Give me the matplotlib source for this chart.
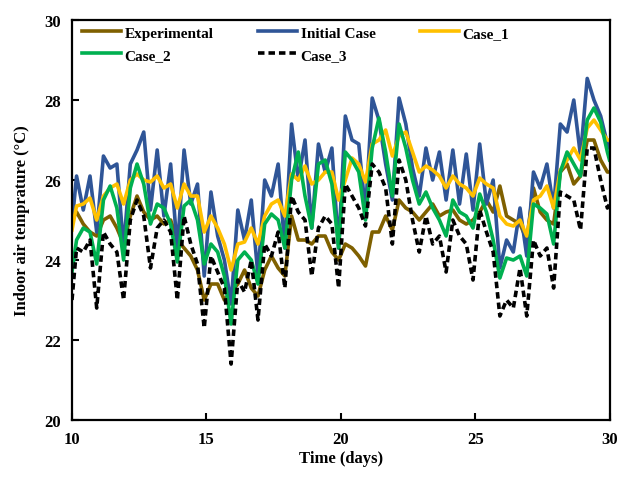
import matplotlib
matplotlib.use("Agg")
import matplotlib.pyplot as plt

# Sample times: start of day 10, then four points per day
# (two daily peaks and two troughs), then the end of day 30
start_day = 10.0
end_day = 30.0
day_offsets = [0.17, 0.42, 0.67, 0.92]
days = list(range(10, 30))
time_days = [start_day] + [d + o for d in days for o in day_offsets] + [end_day]

experimental = [
    25.0,
    25.2, 24.9, 24.7, 24.6,
    25.0, 25.1, 24.8, 24.4,
    25.1, 25.6, 25.2, 25.0,
    25.1, 24.9, 25.0, 24.5,
    24.3, 24.1, 23.75, 23.0,
    23.4, 23.4, 23.0, 23.2,
    23.4, 23.75, 23.3, 23.1,
    23.75, 24.1, 23.8, 23.6,
    25.1, 24.5, 24.5, 24.4,
    24.6, 24.6, 24.2, 24.0,
    24.4, 24.3, 24.1, 23.85,
    24.7, 24.7, 25.1, 24.75,
    25.5, 25.3, 25.2, 25.0,
    25.2, 25.4, 25.1, 25.2,
    25.25, 25.0, 24.9, 25.0,
    25.2, 25.5, 25.2, 25.85,
    25.1, 25.0, 24.9, 24.5,
    25.8, 25.2, 25.0, 24.9,
    26.2, 26.4, 25.9, 26.1,
    27.0, 27.0, 26.5, 26.2,
    26.2,
]

initial_case = [
    24.9,
    26.1, 25.25, 26.1, 24.7,
    26.6, 26.3, 26.4, 24.3,
    26.4, 26.75, 27.2, 25.25,
    26.75, 25.1, 26.4, 24.25,
    26.75, 25.4, 25.9, 23.6,
    25.7, 24.6, 24.0, 22.9,
    25.25, 24.5, 25.5, 23.6,
    26.0, 25.6, 26.4, 24.3,
    27.4, 26.0, 27.0, 24.8,
    26.9, 26.2, 26.8, 24.3,
    27.6, 27.0, 26.9, 25.2,
    28.05, 27.5, 26.4, 25.5,
    28.05, 27.4, 26.3, 25.6,
    26.8, 26.0, 26.7, 25.5,
    26.75, 25.4, 26.65, 25.25,
    26.9, 25.4, 26.0, 23.8,
    24.5, 24.2, 25.3, 24.1,
    26.2, 25.8, 26.4, 25.3,
    27.4, 27.2, 28.0, 26.6,
    28.54, 28.0, 27.6, 26.9,
    26.8,
]

case_1 = [
    24.75,
    25.35, 25.4, 25.55, 25.0,
    25.6, 25.8, 25.9, 25.4,
    26.0, 26.15, 26.0, 25.95,
    26.1, 25.8, 25.9, 25.3,
    25.9, 25.6, 25.6, 24.7,
    25.1, 24.8, 24.4, 23.75,
    24.4, 24.45, 24.8, 24.4,
    25.1, 25.4, 25.5, 25.1,
    26.15, 26.0, 26.35, 25.9,
    26.0, 26.2, 26.2, 25.5,
    26.0, 26.55, 26.4, 25.95,
    26.9, 27.0, 27.25, 26.6,
    27.1, 27.2, 26.7, 26.2,
    26.35, 26.25, 26.1, 25.8,
    26.1, 25.9, 25.8, 25.6,
    26.05, 25.9, 25.8, 25.1,
    24.9, 24.85, 25.0, 24.6,
    25.5, 25.6, 25.85, 25.3,
    26.25, 26.5, 26.8, 26.5,
    27.3, 27.5, 27.25, 27.0,
    27.0,
]

case_2 = [
    23.7,
    24.5, 24.8, 24.7, 23.9,
    25.5, 25.85, 25.3, 24.0,
    25.8, 26.4, 25.9, 24.9,
    25.4, 25.3, 24.9, 23.95,
    25.35, 25.5, 25.0, 23.9,
    24.4, 24.2, 23.6, 22.4,
    24.0, 24.2, 24.0, 23.4,
    24.9, 25.15, 25.0, 24.3,
    26.0, 26.7, 25.6, 24.8,
    26.4, 26.5, 25.9, 24.3,
    26.7, 26.5, 26.2, 25.0,
    26.8, 27.55, 26.7, 25.6,
    27.4, 26.8, 26.0, 25.4,
    25.7, 25.3, 25.0, 24.6,
    25.5, 25.2, 25.1, 24.8,
    25.65, 25.2, 24.5, 23.55,
    24.05, 24.0, 24.1, 23.6,
    25.4, 25.3, 25.15, 24.4,
    26.2, 26.7, 26.4, 26.1,
    27.5, 27.8, 27.45, 26.7,
    26.5,
]

case_3 = [
    23.0,
    24.3, 24.2, 24.5, 22.8,
    24.7, 24.4, 24.2, 23.0,
    25.0, 25.5, 25.1, 23.8,
    24.8, 25.0, 24.7, 23.0,
    25.1, 24.4, 23.9, 22.3,
    24.1, 23.7, 23.3, 21.4,
    23.5, 23.2, 24.0, 22.5,
    24.4, 24.1, 24.7, 23.3,
    25.6, 25.2, 25.0, 23.6,
    24.8, 25.1, 24.9, 23.3,
    25.9, 25.6, 25.3, 24.85,
    26.4, 26.2, 25.8, 24.4,
    26.5, 26.0, 25.0, 24.2,
    25.1, 24.4, 24.6, 23.7,
    25.0, 24.6, 24.4, 23.5,
    25.25, 24.7, 24.2, 22.6,
    23.0, 22.8, 23.8, 22.6,
    24.5, 24.1, 24.3, 23.3,
    25.7, 25.6, 25.5, 24.75,
    26.8, 26.8, 26.0, 25.3,
    25.4,
]

labels = ["Experimental", "Initial Case", "Case_1", "Case_2", "Case_3"]
colors = ["#7F6000", "#2F5597", "#FFC000", "#00B050", "black"]

plt.rcParams["font.family"] = ["Liberation Serif", "DejaVu Serif"]
plt.rcParams["font.weight"] = "bold"

fig = plt.figure(figsize=(6.19, 4.81), dpi=100)
ax = fig.add_axes([0.1163, 0.1247, 0.8684, 0.8316])

series = [experimental, initial_case, case_1, case_2, case_3]
lines = []
for values, label, color in zip(series, labels, colors):
    style = (0, (1.8, 1.1)) if label == "Case_3" else "-"
    (line,) = ax.plot(time_days, values, color=color, lw=2.6, linestyle=style,
                      solid_joinstyle="round", dash_joinstyle="round", label=label)
    lines.append(line)

ax.set_xlim(10, 30)
ax.set_ylim(20, 30)
ax.set_xticks([10, 15, 20, 25, 30])
ax.set_yticks([20, 22, 24, 26, 28, 30])
ax.tick_params(direction="in", length=5, width=1.5, labelsize=12, pad=8)
for spine in ax.spines.values():
    spine.set_linewidth(1.6)

ax.set_xlabel("Time (days)", fontsize=12, fontweight="bold", labelpad=2)
ax.set_ylabel("Indoor air temprature (\u00b0C)", fontsize=12, fontweight="bold", labelpad=10)

# legend fills column by column, so order entries to read row by row
order = [0, 3, 1, 4, 2]
ax.legend([lines[i] for i in order], [labels[i] for i in order],
          loc="upper left", bbox_to_anchor=(0.018, 0.985), ncol=3, frameon=False,
          fontsize=11, handlelength=2.6, handletextpad=0.2, columnspacing=2.9,
          labelspacing=0.55, borderpad=0, borderaxespad=0)

fig.savefig("out.png", dpi=100)
